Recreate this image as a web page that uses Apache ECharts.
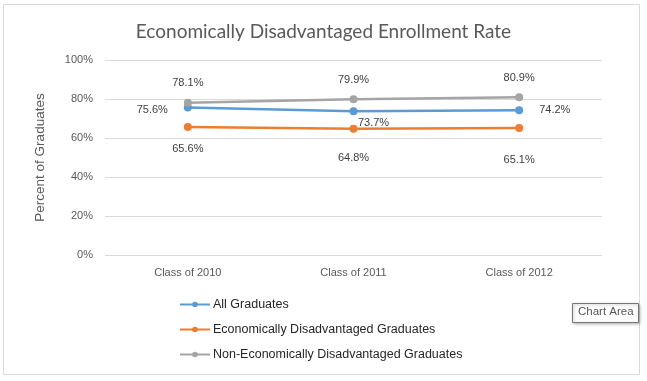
<!DOCTYPE html>
<html><head><meta charset="utf-8">
<script src="https://cdn.jsdelivr.net/npm/echarts@6/dist/echarts.min.js"></script>
<style>html,body{margin:0;padding:0;background:#fff}#c{width:647px;height:381px}</style>
</head><body><div id="c"></div>
<script>
var categories = ['Class of 2010', 'Class of 2011', 'Class of 2012'];
var allGrads = [75.6, 73.7, 74.2];
var econGrads = [65.6, 64.8, 65.1];
var nonEconGrads = [78.1, 79.9, 80.9];
var yTicks = [0, 20, 40, 60, 80, 100];

var chart = echarts.init(document.getElementById('c'), null, {renderer: 'canvas'});
var lblBase = {show: true, color: '#404040', fontSize: 11, fontFamily: 'Liberation Sans', formatter: function(p){return p.value.toFixed(1) + '%';}};
function mk(name, data, color, labels) {
  return {
    name: name, type: 'line', data: data.map(function(v, i){
      return {value: v, label: Object.assign({}, lblBase, labels[i])};
    }),
    symbol: 'circle', symbolSize: 8, lineStyle: {color: color, width: 2.5},
    itemStyle: {color: color}, color: color, animation: false
  };
}
chart.setOption({
  animation: false,
  title: {text: 'Economically Disadvantaged Enrollment Rate', left: 'center', top: 17,
    textStyle: {fontFamily: 'Lato', fontWeight: 'normal', fontSize: 19, color: '#595959'}},
  grid: {left: 105, right: 45, top: 60, bottom: 126},
  xAxis: {type: 'category', data: categories, boundaryGap: true,
    axisLine: {show: false}, axisTick: {show: false},
    axisLabel: {color: '#595959', fontSize: 11, fontFamily: 'Liberation Sans', margin: 12}},
  yAxis: {type: 'value', min: 0, max: 100, interval: 20,
    name: 'Percent of Graduates', nameLocation: 'middle', nameGap: 58,
    nameTextStyle: {color: '#595959', fontSize: 13.5, fontFamily: 'Liberation Sans'},
    axisLabel: {color: '#595959', fontSize: 11, fontFamily: 'Liberation Sans', margin: 12,
      formatter: function(v){return yTicks.indexOf(v) >= 0 ? v + '%' : '';}},
    splitLine: {lineStyle: {color: '#d9d9d9', width: 1}}},
  legend: {orient: 'vertical', left: 174, top: 293, itemGap: 12, itemWidth: 30, itemHeight: 7,
    textStyle: {color: '#262626', fontSize: 12.5, fontFamily: 'Liberation Sans', padding: [0, 0, 0, -2]},
    data: ['All Graduates', 'Economically Disadvantaged Graduates', 'Non-Economically Disadvantaged Graduates']},
  graphic: [
    {type: 'rect', shape: {x: 3.5, y: 4.5, width: 636, height: 370}, style: {fill: 'none', stroke: '#d9d9d9', lineWidth: 1}, z: -1},
    {type: 'rect', shape: {x: 572.5, y: 303.5, width: 66, height: 19}, style: {fill: '#ffffff', stroke: '#767676', lineWidth: 1, shadowBlur: 3, shadowColor: 'rgba(0,0,0,0.3)', shadowOffsetX: 1, shadowOffsetY: 1}, z: 100},
    {type: 'text', x: 578, y: 306, style: {text: 'Chart Area', fill: '#575757', fontSize: 11.5, fontFamily: 'Liberation Sans'}, z: 101}
  ],
  series: [
    mk('All Graduates', allGrads, '#5b9bd5', [
      {position: 'left', distance: 16, offset: [0, 2]},
      {position: 'bottom', distance: 2, offset: [20, 0]},
      {position: 'right', distance: 16}
    ]),
    mk('Economically Disadvantaged Graduates', econGrads, '#ed7d31', [
      {position: 'bottom', distance: 12},
      {position: 'bottom', distance: 20},
      {position: 'bottom', distance: 22}
    ]),
    mk('Non-Economically Disadvantaged Graduates', nonEconGrads, '#a5a5a5', [
      {position: 'top', distance: 10},
      {position: 'top', distance: 10},
      {position: 'top', distance: 10}
    ])
  ]
});
</script></body></html>
